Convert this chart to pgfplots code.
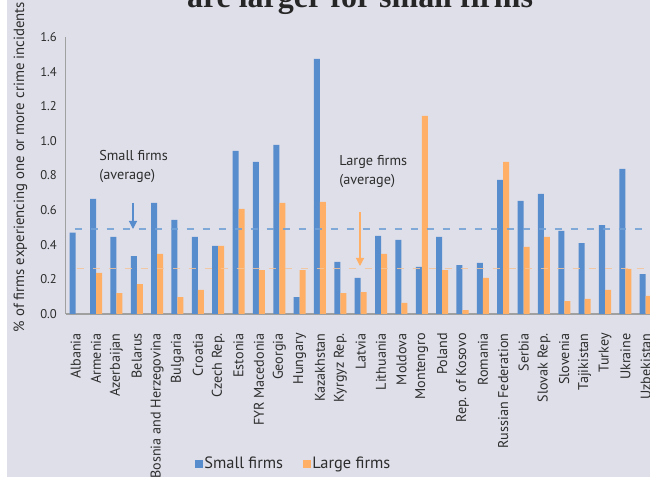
\documentclass[border=0pt]{standalone}
\usepackage{pgfplots}
\pgfplotsset{compat=1.18}
\usepackage{pgfplotstable}
\usepackage{fontspec}
\setmainfont{PT Sans}
\newfontfamily\titlefont{Liberation Serif}
\usetikzlibrary{arrows.meta}
\definecolor{bg}{RGB}{222,223,233}
\definecolor{sblue}{RGB}{88,141,205}
\definecolor{lorange}{RGB}{255,176,102}
\definecolor{avgblue}{RGB}{112,160,214}
\definecolor{avgorange}{RGB}{246,196,152}
\definecolor{axgray}{RGB}{160,160,160}
\definecolor{txt}{RGB}{45,45,45}

\pgfplotstableread{
idx small large
0  0.470 nan
1  0.665 0.237
2  0.445 0.121
3  0.335 0.173
4  0.642 0.347
5  0.543 0.098
6  0.445 0.139
7  0.393 0.393
8  0.942 0.607
9  0.879 0.254
10 0.977 0.642
11 0.098 0.254
12 1.474 0.647
13 0.301 0.121
14 0.208 0.127
15 0.451 0.347
16 0.428 0.064
17 0.272 1.144
18 0.445 0.254
19 0.283 0.023
20 0.295 0.208
21 0.775 0.879
22 0.653 0.387
23 0.694 0.445
24 0.480 0.075
25 0.410 0.087
26 0.514 0.139
27 0.838 0.260
28 0.231 0.104
}\datatable

\begin{document}
\begin{tikzpicture}[x=0.75pt,y=0.75pt]
\path[use as bounding box] (0,0) rectangle (650,478);
\clip (0,0) rectangle (650,478);
\fill[white] (0,0) rectangle (650,478);
\fill[bg] (7,1) rectangle (650,478);
\begin{axis}[
  at={(49.125pt,123pt)}, anchor=south west,
  scale only axis, width=442.8pt, height=207.75pt,
  xmin=-0.5, xmax=28.5, ymin=0, ymax=1.6,
  axis x line*=bottom, axis y line*=left,
  x axis line style={axgray, line width=1.2pt, -},
  y axis line style={axgray, line width=0.8pt, -},
  major tick length=0pt,
  xtick={0,...,28},
  xticklabels={Albania, Armenia, Azerbaijan, Belarus, Bosnia and Herzegovina, Bulgaria, Croatia, Czech Rep., Estonia, FYR Macedonia, Georgia, Hungary, Kazakhstan, Kyrgyz Rep., Latvia, Lithuania, Moldova, Montengro, Poland, Rep. of Kosovo, Romania, Russian Federation, Serbia, Slovak Rep., Slovenia, Tajikistan, Turkey, Ukraine, Uzbekistan},
  xticklabel style={rotate=90, anchor=east, font=\fontsize{10.6}{12}\selectfont, text=txt},
  xticklabel shift=11pt,
  ytick={0,0.2,0.4,0.6,0.8,1.0,1.2,1.4,1.6},
  yticklabel style={/pgf/number format/.cd, fixed, fixed zerofill, precision=1, /tikz/.cd, font=\fontsize{9.5}{11}\selectfont, text=txt},
  yticklabel shift=3pt,
  /pgf/number format/assume math mode=true,
  legend style={at={(0.3865,-0.5415)}, anchor=center, draw=none, fill=none,
    legend columns=2, font=\fontsize{12.3}{14}\selectfont, text=txt,
    nodes={inner sep=1.2pt},
    /tikz/every even column/.append style={column sep=14pt}},
  legend image code/.code={\fill[#1] (0pt,-2.75pt) rectangle (5.5pt,2.75pt);},
]
\addplot[ybar, bar width=0.295, bar shift=-0.1475, fill=sblue, draw=none] table[x=idx, y=small] {\datatable};
\addlegendentry{Small firms}
\addplot[ybar, bar width=0.295, bar shift=0.1475, fill=lorange, draw=none, unbounded coords=discard] table[x=idx, y=large] {\datatable};
\addlegendentry{Large firms}
\addplot[forget plot, sharp plot, no marks, avgblue, line width=1.1pt, dash pattern=on 5.6pt off 6.4pt, opacity=0.85] coordinates {(-0.05,0.491) (28.5,0.491)};
\addplot[forget plot, sharp plot, no marks, avgorange, line width=1.1pt, dash pattern=on 5.6pt off 6.4pt, opacity=0.85] coordinates {(0.05,0.262) (28.5,0.262)};
\end{axis}
\node[anchor=base west, align=left, inner sep=0pt, font=\fontsize{10.7}{14.25}\selectfont, text=txt] at (99,298) {Small firms\\(average)};
\node[anchor=base west, align=left, inner sep=0pt, font=\fontsize{10.7}{14.25}\selectfont, text=txt] at (339,293) {Large firms\\(average)};
\draw[sblue, line width=0.9pt, -{Triangle[width=6pt,length=6pt]}] (133,275) -- (133,249);
\draw[lorange, line width=0.9pt, -{Triangle[width=6pt,length=6pt]}] (360,266) -- (360,212);
\node[anchor=base, inner sep=0pt, font=\titlefont\bfseries\fontsize{24}{28}\selectfont, text=black!85] at (360,470.7) {are larger for small firms};
\node[rotate=90, inner sep=0pt, font=\fontsize{11.1}{13}\selectfont, text=txt] at (20.5,311) {\% of firms experiencing one or more crime incidents};
\end{tikzpicture}
\end{document}
